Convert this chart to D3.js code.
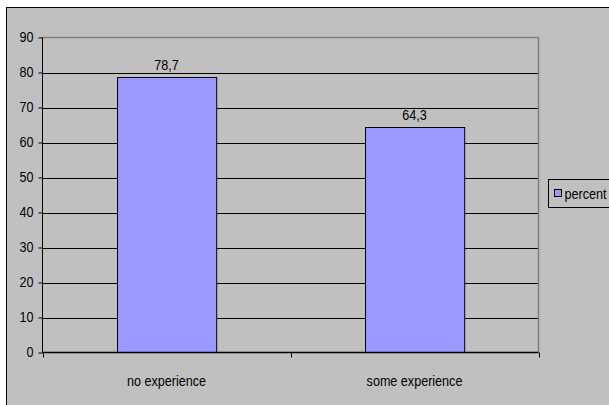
<!DOCTYPE html>
<html>
<head>
<meta charset="utf-8">
<script src="https://cdn.jsdelivr.net/npm/d3@7"></script>
<style>
  html, body { margin: 0; padding: 0; background: #ffffff; }
  svg { display: block; }
  text { font-family: "Liberation Sans", Arial, sans-serif; fill: #000; }
</style>
</head>
<body>
<svg id="chart" width="609" height="405"></svg>
<script>
// Data
const categories = ["no experience", "some experience"];
const percent = [78.7, 64.3];
const valueLabels = ["78,7", "64,3"];
const yTicks = [0, 10, 20, 30, 40, 50, 60, 70, 80, 90];
const seriesName = "percent";

const FS = 14;
const SQUEEZE = 0.9; // horizontally condensed lettering

const svg = d3.select("#chart");

// Places a condensed text label at (px, py)
function placeText(sel, px, py) {
  sel.attr("x", 0).attr("y", 0)
    .attr("transform", (d, i) => `translate(${px(d, i)},${py(d, i)}) scale(${SQUEEZE},1)`);
}

// Chart frame (continues past the right and bottom edges)
svg.append("rect")
  .attr("x", 6.5).attr("y", 7.5)
  .attr("width", 620).attr("height", 420)
  .attr("fill", "#c0c0c0")
  .attr("stroke", "#000").attr("stroke-width", 1);

const plot = { left: 42.5, right: 538.5, top: 37.5, bottom: 352.5 };

const x = d3.scaleBand()
  .domain(categories)
  .range([plot.left, plot.right])
  .paddingInner(0.6)
  .paddingOuter(0.3);

const y = d3.scaleLinear()
  .domain([0, 90])
  .range([plot.bottom, plot.top]);

// Horizontal gridlines
svg.append("g")
  .selectAll("line")
  .data(yTicks.filter(d => d > 0 && d < 90))
  .join("line")
  .attr("x1", plot.left).attr("x2", plot.right)
  .attr("y1", d => Math.round(y(d)) + 0.5)
  .attr("y2", d => Math.round(y(d)) + 0.5)
  .attr("stroke", "#000").attr("stroke-width", 1);

// Plot border top and right (gray)
svg.append("path")
  .attr("d", `M${plot.left},${plot.top}H${plot.right}V${plot.bottom}`)
  .attr("fill", "none")
  .attr("stroke", "#808080").attr("stroke-width", 1.5);

// Bars
svg.append("g")
  .selectAll("rect")
  .data(percent)
  .join("rect")
  .attr("x", (d, i) => Math.round(x(categories[i])) + 0.5)
  .attr("y", d => Math.round(y(d)) + 0.5)
  .attr("width", x.bandwidth())
  .attr("height", d => plot.bottom - Math.round(y(d)) - 0.5)
  .attr("fill", "#9999ff")
  .attr("stroke", "#000").attr("stroke-width", 1);

// Value labels
svg.append("g")
  .selectAll("text")
  .data(percent)
  .join("text")
  .attr("text-anchor", "middle")
  .attr("font-size", FS)
  .text((d, i) => valueLabels[i])
  .call(placeText, (d, i) => x(categories[i]) + x.bandwidth() / 2, d => y(d) - 7);

// Y axis
const yAxis = d3.axisLeft(y).tickValues(yTicks).tickSize(4).tickPadding(5);
const gy = svg.append("g")
  .attr("transform", `translate(${plot.left},0)`)
  .call(yAxis);
gy.select(".domain").attr("stroke", "#000").attr("d", `M0,${plot.top}V${plot.bottom}`);
gy.selectAll(".tick line").attr("stroke", "#000");
gy.selectAll(".tick text")
  .attr("font-family", "Liberation Sans, Arial, sans-serif")
  .attr("font-size", FS).attr("fill", "#000")
  .attr("x", -9 / SQUEEZE)
  .attr("transform", `scale(${SQUEEZE},1)`);

// X axis with tick marks between categories
const gx = svg.append("g")
  .attr("transform", `translate(0,${plot.bottom})`);
gx.append("line")
  .attr("x1", plot.left).attr("x2", plot.right)
  .attr("stroke", "#000").attr("stroke-width", 1.5);
const step = (plot.right - plot.left) / categories.length;
gx.selectAll("line.tick")
  .data(d3.range(categories.length + 1))
  .join("line")
  .attr("class", "tick")
  .attr("x1", i => Math.round(plot.left + i * step) + 0.5)
  .attr("x2", i => Math.round(plot.left + i * step) + 0.5)
  .attr("y1", 0).attr("y2", 5)
  .attr("stroke", "#000");
gx.selectAll("text")
  .data(categories)
  .join("text")
  .attr("text-anchor", "middle")
  .attr("font-size", FS)
  .text(d => d)
  .call(placeText, d => x(d) + x.bandwidth() / 2, () => 33);

// Legend (box runs past the right edge)
const legend = svg.append("g").attr("transform", "translate(548.5,179.5)");
legend.append("rect")
  .attr("width", 90).attr("height", 28)
  .attr("fill", "#c0c0c0").attr("stroke", "#000");
legend.append("rect")
  .attr("x", 6).attr("y", 10).attr("width", 7).attr("height", 7)
  .attr("fill", "#9999ff").attr("stroke", "#000");
legend.append("text")
  .attr("font-size", FS)
  .text(seriesName)
  .call(placeText, () => 16, () => 19);
</script>
</body>
</html>
